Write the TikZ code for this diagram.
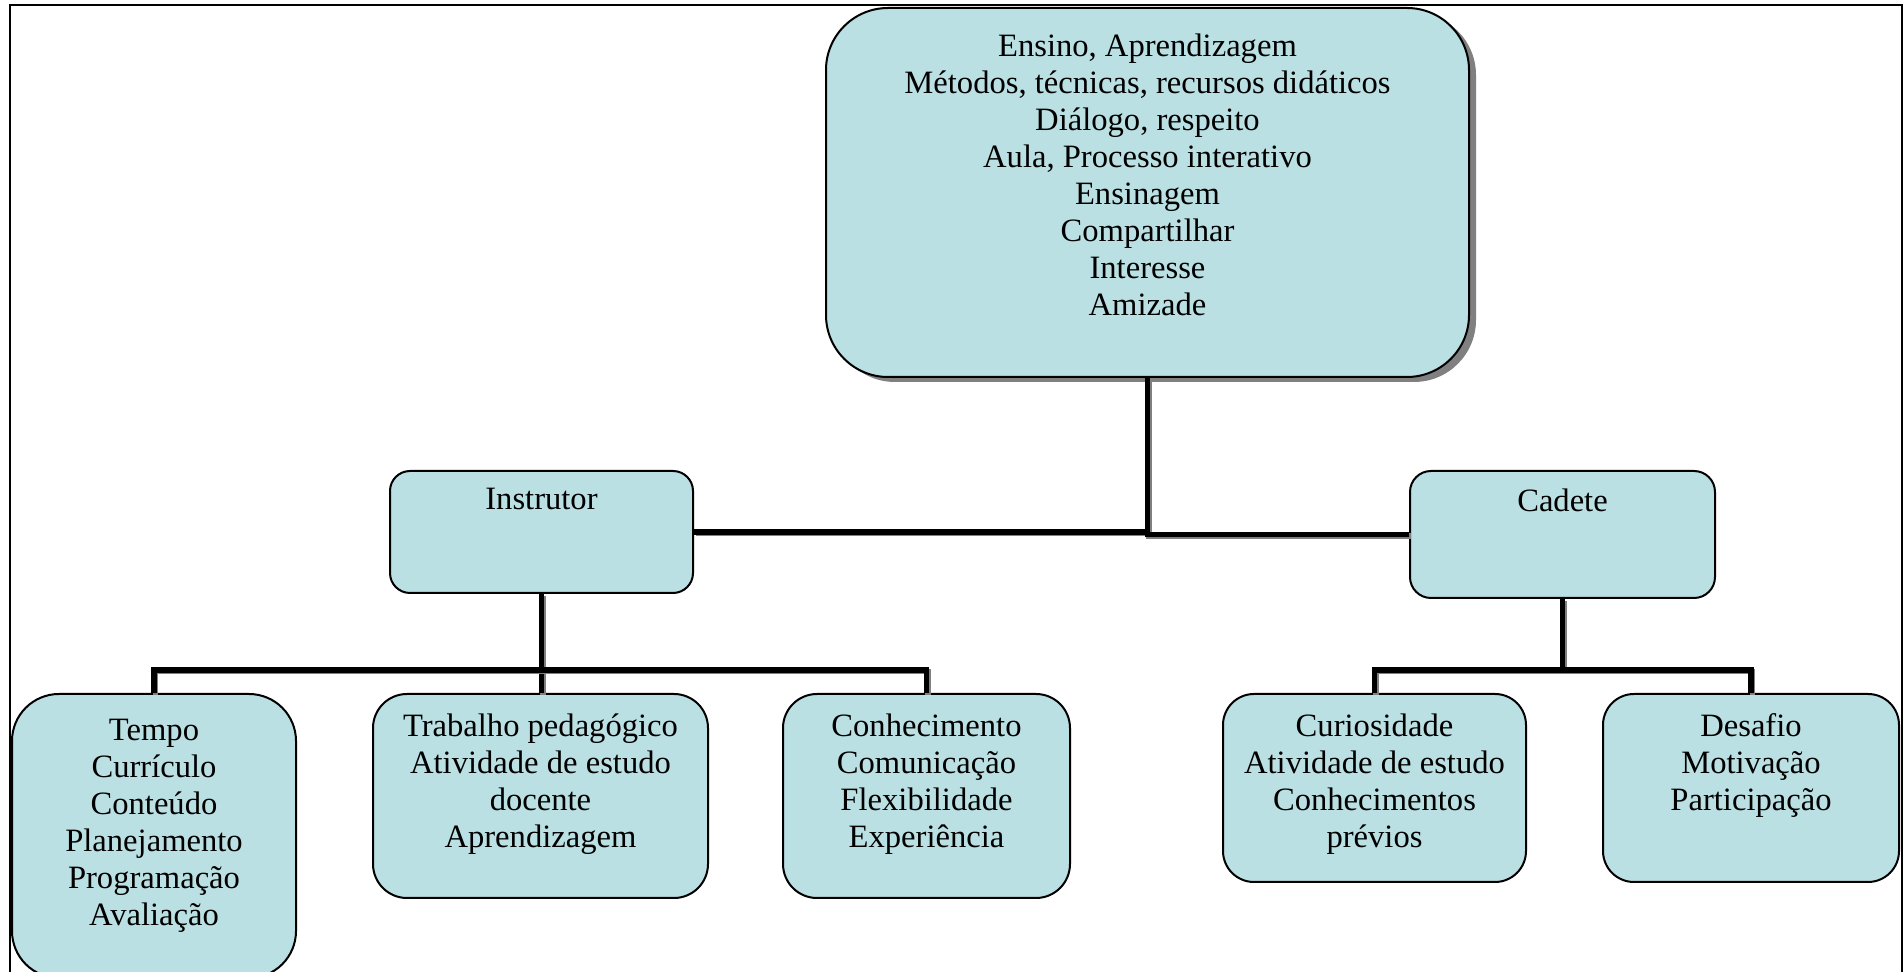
\documentclass[tikz,border=0pt]{standalone}
\usepackage{fontspec}
\setmainfont{Liberation Serif}
\usetikzlibrary{positioning,shadows}
\definecolor{boxcyan}{RGB}{187,224,227}
\definecolor{shadowgray}{RGB}{128,128,128}

\begin{document}
\begin{tikzpicture}[x=0.5pt, y=-0.5pt,
    box/.style={draw, line width=1pt, fill=boxcyan, inner sep=0pt},
    txt/.style={align=center, inner sep=0pt, font=\fontsize{16.3pt}{18.5pt}\selectfont},
    conn/.style={line width=2.75pt, preaction={draw=shadowgray, line width=2.75pt, transform canvas={shift={(0.8pt,-0.8pt)}}}}]
        \useasboundingbox (0,0) rectangle (1903,972);
        \clip (0,0) rectangle (1903,972);
        \draw[line width=1pt] (10,1000) -- (10,5) -- (1901.5,5) -- (1901.5,1000);

        % top level
        \node[box, rounded corners=31pt, minimum width=321.5pt, minimum height=184.5pt,
              drop shadow={shadow xshift=3.5pt, shadow yshift=-2.5pt, fill=shadowgray, opacity=1}] (top) at (1147.5,192.5) {};
        \node[txt, below=13pt of top.north] (toptxt) {Ensino, Aprendizagem\\Métodos, técnicas, recursos didáticos\\Diálogo, respeito\\Aula, Processo interativo\\Ensinagem\\Compartilhar\\Interesse\\Amizade};

        % second level
        \node[box, rounded corners=10pt, minimum width=151.5pt, minimum height=61pt] (instr) at (541.5,532) {};
        \node[txt, below=9pt of instr.north] (instrtxt) {Instrutor};
        \node[box, rounded corners=10.5pt, minimum width=152.5pt, minimum height=63.5pt] (cadete) at (1562.5,534.5) {};
        \node[txt, below=9pt of cadete.north] (cadetetxt) {Cadete};

        % third level
        \node[box, rounded corners=23.5pt, minimum width=142pt, minimum height=142pt] (tempo) at (154,836) {};
        \node[txt, below=12.8pt of tempo.north] (tempotxt) {Tempo\\Currículo\\Conteúdo\\Planejamento\\Programação\\Avaliação};
        \node[box, rounded corners=17pt, minimum width=167.5pt, minimum height=102pt] (trab) at (540.5,796) {};
        \node[txt, below=10pt of trab.north] (trabtxt) {Trabalho pedagógico\\Atividade de estudo\\docente\\Aprendizagem};
        \node[box, rounded corners=17pt, minimum width=143.5pt, minimum height=102pt] (conh) at (926.5,796) {};
        \node[txt, below=10pt of conh.north] (conhtxt) {Conhecimento\\Comunicação\\Flexibilidade\\Experiência};
        \node[box, rounded corners=15.5pt, minimum width=151.5pt, minimum height=94pt] (curios) at (1374.5,788) {};
        \node[txt, below=10pt of curios.north] (curiostxt) {Curiosidade\\Atividade de estudo\\Conhecimentos\\prévios};
        \node[box, rounded corners=15.5pt, minimum width=148pt, minimum height=94pt] (desafio) at (1751,788) {};
        \node[txt, below=10pt of desafio.north] (desafiotxt) {Desafio\\Motivação\\Participação};

        % connectors
        \coordinate (ibar) at (541.5,670);
        \coordinate (cbar) at (1562.5,670);
        \draw[conn] (top.south) |- (instr.east);
        \draw[conn] (top.south) |- (cadete.west);
        \draw[conn] (instr.south) -- (instr.south |- trab.north);
        \draw[conn] (tempo.north) |- (ibar) -| (conh.north);
        \draw[conn] (cadete.south) -- (cbar);
        \draw[conn] (curios.north) |- (cbar) -| (desafio.north);
    \end{tikzpicture}
\end{document}
